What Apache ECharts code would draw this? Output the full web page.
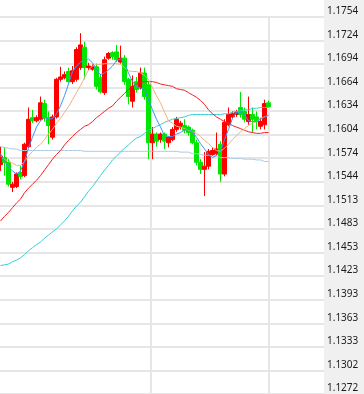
<!DOCTYPE html>
<html>
<head>
<meta charset="utf-8">
<script src="https://cdn.jsdelivr.net/npm/echarts@6/dist/echarts.min.js"></script>
<style>
html,body{margin:0;padding:0;background:#fff;}
#chart{width:364px;height:394px;}
</style>
</head>
<body>
<div id="chart"></div>
<script>
// ---- data ----
const opens  = [1.1565,1.1574,1.1568,1.1536,1.1537,1.1555,1.1551,1.1588,1.1625,1.1621,
                1.1623,1.1643,1.1625,1.1600,1.1626,1.1674,1.1676,1.1684,1.1671,1.1674,
                1.1689,1.1715,1.1689,1.1687,1.1690,1.1676,1.1657,1.1701,1.1708,1.1709,
                1.1696,1.1701,1.1674,1.1646,1.1671,1.1663,1.1682,1.1667,1.1593,1.1604,
                1.1597,1.1604,1.1593,1.1597,1.1610,1.1613,1.1615,1.1613,1.1609,1.1593,
                1.1568,1.1559,1.1563,1.1578,1.1579,1.1591,1.1553,1.1616,1.1626,1.1629,
                1.1638,1.1633,1.1620,1.1629,1.1626,1.1614,1.1616,1.1644];
const closes = [1.1576,1.1568,1.1540,1.1540,1.1553,1.1550,1.1591,1.1623,1.1621,1.1625,
                1.1644,1.1625,1.1615,1.1626,1.1674,1.1677,1.1680,1.1671,1.1685,1.1712,
                1.1718,1.1689,1.1691,1.1690,1.1665,1.1658,1.1699,1.1707,1.1703,1.1699,
                1.1701,1.1671,1.1652,1.1665,1.1661,1.1682,1.1652,1.1593,1.1604,1.1595,
                1.1604,1.1595,1.1600,1.1610,1.1623,1.1618,1.1609,1.1606,1.1593,1.1568,
                1.1559,1.1563,1.1582,1.1583,1.1585,1.1553,1.1619,1.1629,1.1630,1.1632,
                1.1629,1.1623,1.1629,1.1623,1.1620,1.1620,1.1643,1.1639];
const lows   = [1.1557,1.1551,1.1537,1.1530,1.1535,1.1546,1.1549,1.1586,1.1618,1.1619,
                1.1621,1.1620,1.1591,1.1597,1.1624,1.1671,1.1674,1.1670,1.1668,1.1671,
                1.1686,1.1674,1.1686,1.1685,1.1661,1.1656,1.1654,1.1699,1.1699,1.1696,
                1.1694,1.1667,1.1642,1.1638,1.1657,1.1661,1.1648,1.1572,1.1572,1.1588,
                1.1593,1.1585,1.1587,1.1595,1.1607,1.1610,1.1605,1.1602,1.1591,1.1564,
                1.1553,1.1525,1.1559,1.1576,1.1577,1.1543,1.1550,1.1614,1.1624,1.1626,
                1.1625,1.1619,1.1616,1.1606,1.1610,1.1610,1.1610,1.1638];
const highs  = [1.1588,1.1587,1.1572,1.1543,1.1555,1.1563,1.1593,1.1638,1.1635,1.1628,
                1.1652,1.1648,1.1633,1.1629,1.1676,1.1690,1.1684,1.1689,1.1691,1.1715,
                1.1733,1.1722,1.1695,1.1693,1.1694,1.1681,1.1703,1.1709,1.1710,1.1718,
                1.1717,1.1705,1.1676,1.1679,1.1677,1.1689,1.1689,1.1671,1.1613,1.1606,
                1.1606,1.1606,1.1601,1.1613,1.1626,1.1621,1.1623,1.1615,1.1611,1.1597,
                1.1572,1.1581,1.1585,1.1587,1.1606,1.1595,1.1623,1.1638,1.1633,1.1635,
                1.1658,1.1638,1.1652,1.1638,1.1633,1.1625,1.1648,1.1647];

const maBlue = [1.1579,1.1569,1.1562,1.1557,1.1553,1.1557,1.1569,1.1586,1.1600,1.1613,
                1.1621,1.1625,1.1623,1.1624,1.1630,1.1640,1.1653,1.1668,1.1684,1.1691,
                1.1696,1.1699,1.1700,1.1695,1.1686,1.1680,1.1682,1.1686,1.1691,1.1698,
                1.1700,1.1695,1.1682,1.1671,1.1665,1.1663,1.1661,1.1648,1.1635,1.1623,
                1.1613,1.1602,1.1601,1.1601,1.1604,1.1606,1.1609,1.1610,1.1607,1.1600,
                1.1592,1.1585,1.1578,1.1574,1.1577,1.1582,1.1597,1.1610,1.1624,1.1632,
                1.1632,1.1629,1.1621,1.1620,1.1620,1.1623,1.1626,1.1628];
const maTan  = [1.1576,1.1572,1.1569,1.1567,1.1564,1.1564,1.1569,1.1576,1.1582,1.1587,
                1.1591,1.1597,1.1604,1.1610,1.1618,1.1624,1.1632,1.1639,1.1648,1.1657,
                1.1666,1.1676,1.1686,1.1691,1.1693,1.1693,1.1694,1.1694,1.1694,1.1694,
                1.1693,1.1689,1.1685,1.1684,1.1684,1.1682,1.1679,1.1674,1.1663,1.1653,
                1.1644,1.1632,1.1621,1.1618,1.1614,1.1613,1.1611,1.1609,1.1607,1.1605,
                1.1601,1.1596,1.1592,1.1587,1.1583,1.1582,1.1586,1.1591,1.1597,1.1602,
                1.1607,1.1611,1.1615,1.1618,1.1620,1.1624,1.1626,1.1628];
const maRed  = [1.1493,1.1499,1.1504,1.1510,1.1516,1.1521,1.1529,1.1535,1.1540,1.1545,
                1.1551,1.1558,1.1565,1.1572,1.1578,1.1583,1.1590,1.1596,1.1601,1.1606,
                1.1610,1.1614,1.1616,1.1620,1.1625,1.1629,1.1633,1.1637,1.1640,1.1646,
                1.1651,1.1656,1.1661,1.1665,1.1668,1.1670,1.1671,1.1671,1.1671,1.1670,
                1.1668,1.1667,1.1666,1.1665,1.1662,1.1661,1.1660,1.1657,1.1654,1.1651,
                1.1647,1.1642,1.1635,1.1630,1.1626,1.1623,1.1620,1.1618,1.1615,1.1613,
                1.1611,1.1609,1.1607,1.1606,1.1605,1.1605,1.1606,1.1606];
const maCyan = [1.1436,1.1437,1.1438,1.1441,1.1443,1.1446,1.1450,1.1455,1.1459,1.1463,
                1.1466,1.1471,1.1475,1.1479,1.1483,1.1488,1.1493,1.1499,1.1506,1.1512,
                1.1517,1.1524,1.1531,1.1537,1.1544,1.1551,1.1558,1.1564,1.1571,1.1576,
                1.1581,1.1586,1.1590,1.1595,1.1599,1.1601,1.1605,1.1609,1.1611,1.1614,
                1.1616,1.1619,1.1621,1.1623,1.1624,1.1625,1.1626,1.1628,1.1629,1.1629,
                1.1629,1.1629,1.1629,1.1629,1.1629,1.1629,1.1630,1.1630,1.1632,1.1633,
                1.1634,1.1635,1.1635,1.1637,1.1637,1.1638,1.1638,1.1638];
const maSlow = [1.1588,1.1587,1.1586,1.1585,1.1585,1.1583,1.1583,1.1583,1.1583,1.1583,
                1.1583,1.1583,1.1583,1.1583,1.1583,1.1583,1.1583,1.1583,1.1583,1.1583,
                1.1583,1.1582,1.1582,1.1582,1.1582,1.1582,1.1582,1.1582,1.1582,1.1582,
                1.1582,1.1582,1.1582,1.1582,1.1582,1.1582,1.1582,1.1582,1.1582,1.1582,
                1.1582,1.1582,1.1582,1.1582,1.1582,1.1581,1.1581,1.1581,1.1579,1.1579,
                1.1578,1.1577,1.1577,1.1576,1.1576,1.1574,1.1574,1.1574,1.1573,1.1573,
                1.1573,1.1572,1.1572,1.1572,1.1571,1.1571,1.1569,1.1569];

const yTickLabels = ['1.1754','1.1724','1.1694','1.1664','1.1634','1.1604','1.1574','1.1544',
                     '1.1513','1.1483','1.1453','1.1423','1.1393','1.1363','1.1333','1.1302','1.1272'];
const yTop = 1.1754, yBottom = 1.1272, yStep = 0.0030125;
const shiftSlots = 13;           // empty bar slots right of the last bar
const dayBreaks = [37.5, 66.95]; // vertical separators (in bar-index units)

const idx = (arr) => arr.map((v, i) => [i, v]);
const candleData = opens.map((o, i) => [i, o, closes[i], lows[i], highs[i]]);

const chart = echarts.init(document.getElementById('chart'), null, {renderer: 'canvas'});
const lineS = (name, data, color) => ({
  name, type: 'line', data: idx(data), symbol: 'none', smooth: false, silent: true,
  lineStyle: {color, width: 1}, z: 3
});

chart.setOption({
  animation: false,
  backgroundColor: '#ffffff',
  graphic: [{type: 'rect', left: 324, top: 0, z: -10,
    shape: {width: 40, height: 394}, style: {fill: '#f0f0f0'}}],
  grid: {left: 0, right: 40, top: 16.7, bottom: 0, containLabel: false},
  xAxis: {
    type: 'value', min: -0.125, max: opens.length + shiftSlots - 0.125,
    axisLine: {show: false}, axisTick: {show: false}, axisLabel: {show: false},
    splitLine: {show: false}
  },
  yAxis: {
    type: 'value', position: 'right',
    min: yBottom, max: yTop, interval: yStep,
    axisLine: {show: false}, axisTick: {show: false},
    splitLine: {show: true, lineStyle: {color: '#e6e6e6', width: 2}},
    axisLabel: {
      margin: 3, color: '#1a1a1a', fontFamily: 'Noto Sans', fontSize: 10,
      verticalAlign: 'bottom', lineHeight: 11,
      showMinLabel: true, showMaxLabel: true,
      formatter: v => { const k = Math.round((yTop - v) / yStep); return yTickLabels[k] || ''; }
    }
  },
  series: [
    {type: 'candlestick', data: candleData, barWidth: 4, z: 2, clip: false,
     encode: {x: 0, y: [1, 2, 3, 4]},
     itemStyle: {color: '#ff0000', color0: '#00e600', borderColor: '#ff0000', borderColor0: '#00e600', borderWidth: 1},
     markLine: {silent: true, symbol: 'none', label: {show: false}, z: 1,
       lineStyle: {color: '#e6e6e6', width: 2, type: 'solid'},
       data: dayBreaks.map(v => ({xAxis: v}))}},
    lineS('slow', maSlow, '#a6cbe6'),
    lineS('cyan', maCyan, '#30d0d8'),
    lineS('red', maRed, '#ff1a1a'),
    lineS('tan', maTan, '#f0b080'),
    lineS('blue', maBlue, '#3a96ff')
  ]
});
</script>
</body>
</html>
